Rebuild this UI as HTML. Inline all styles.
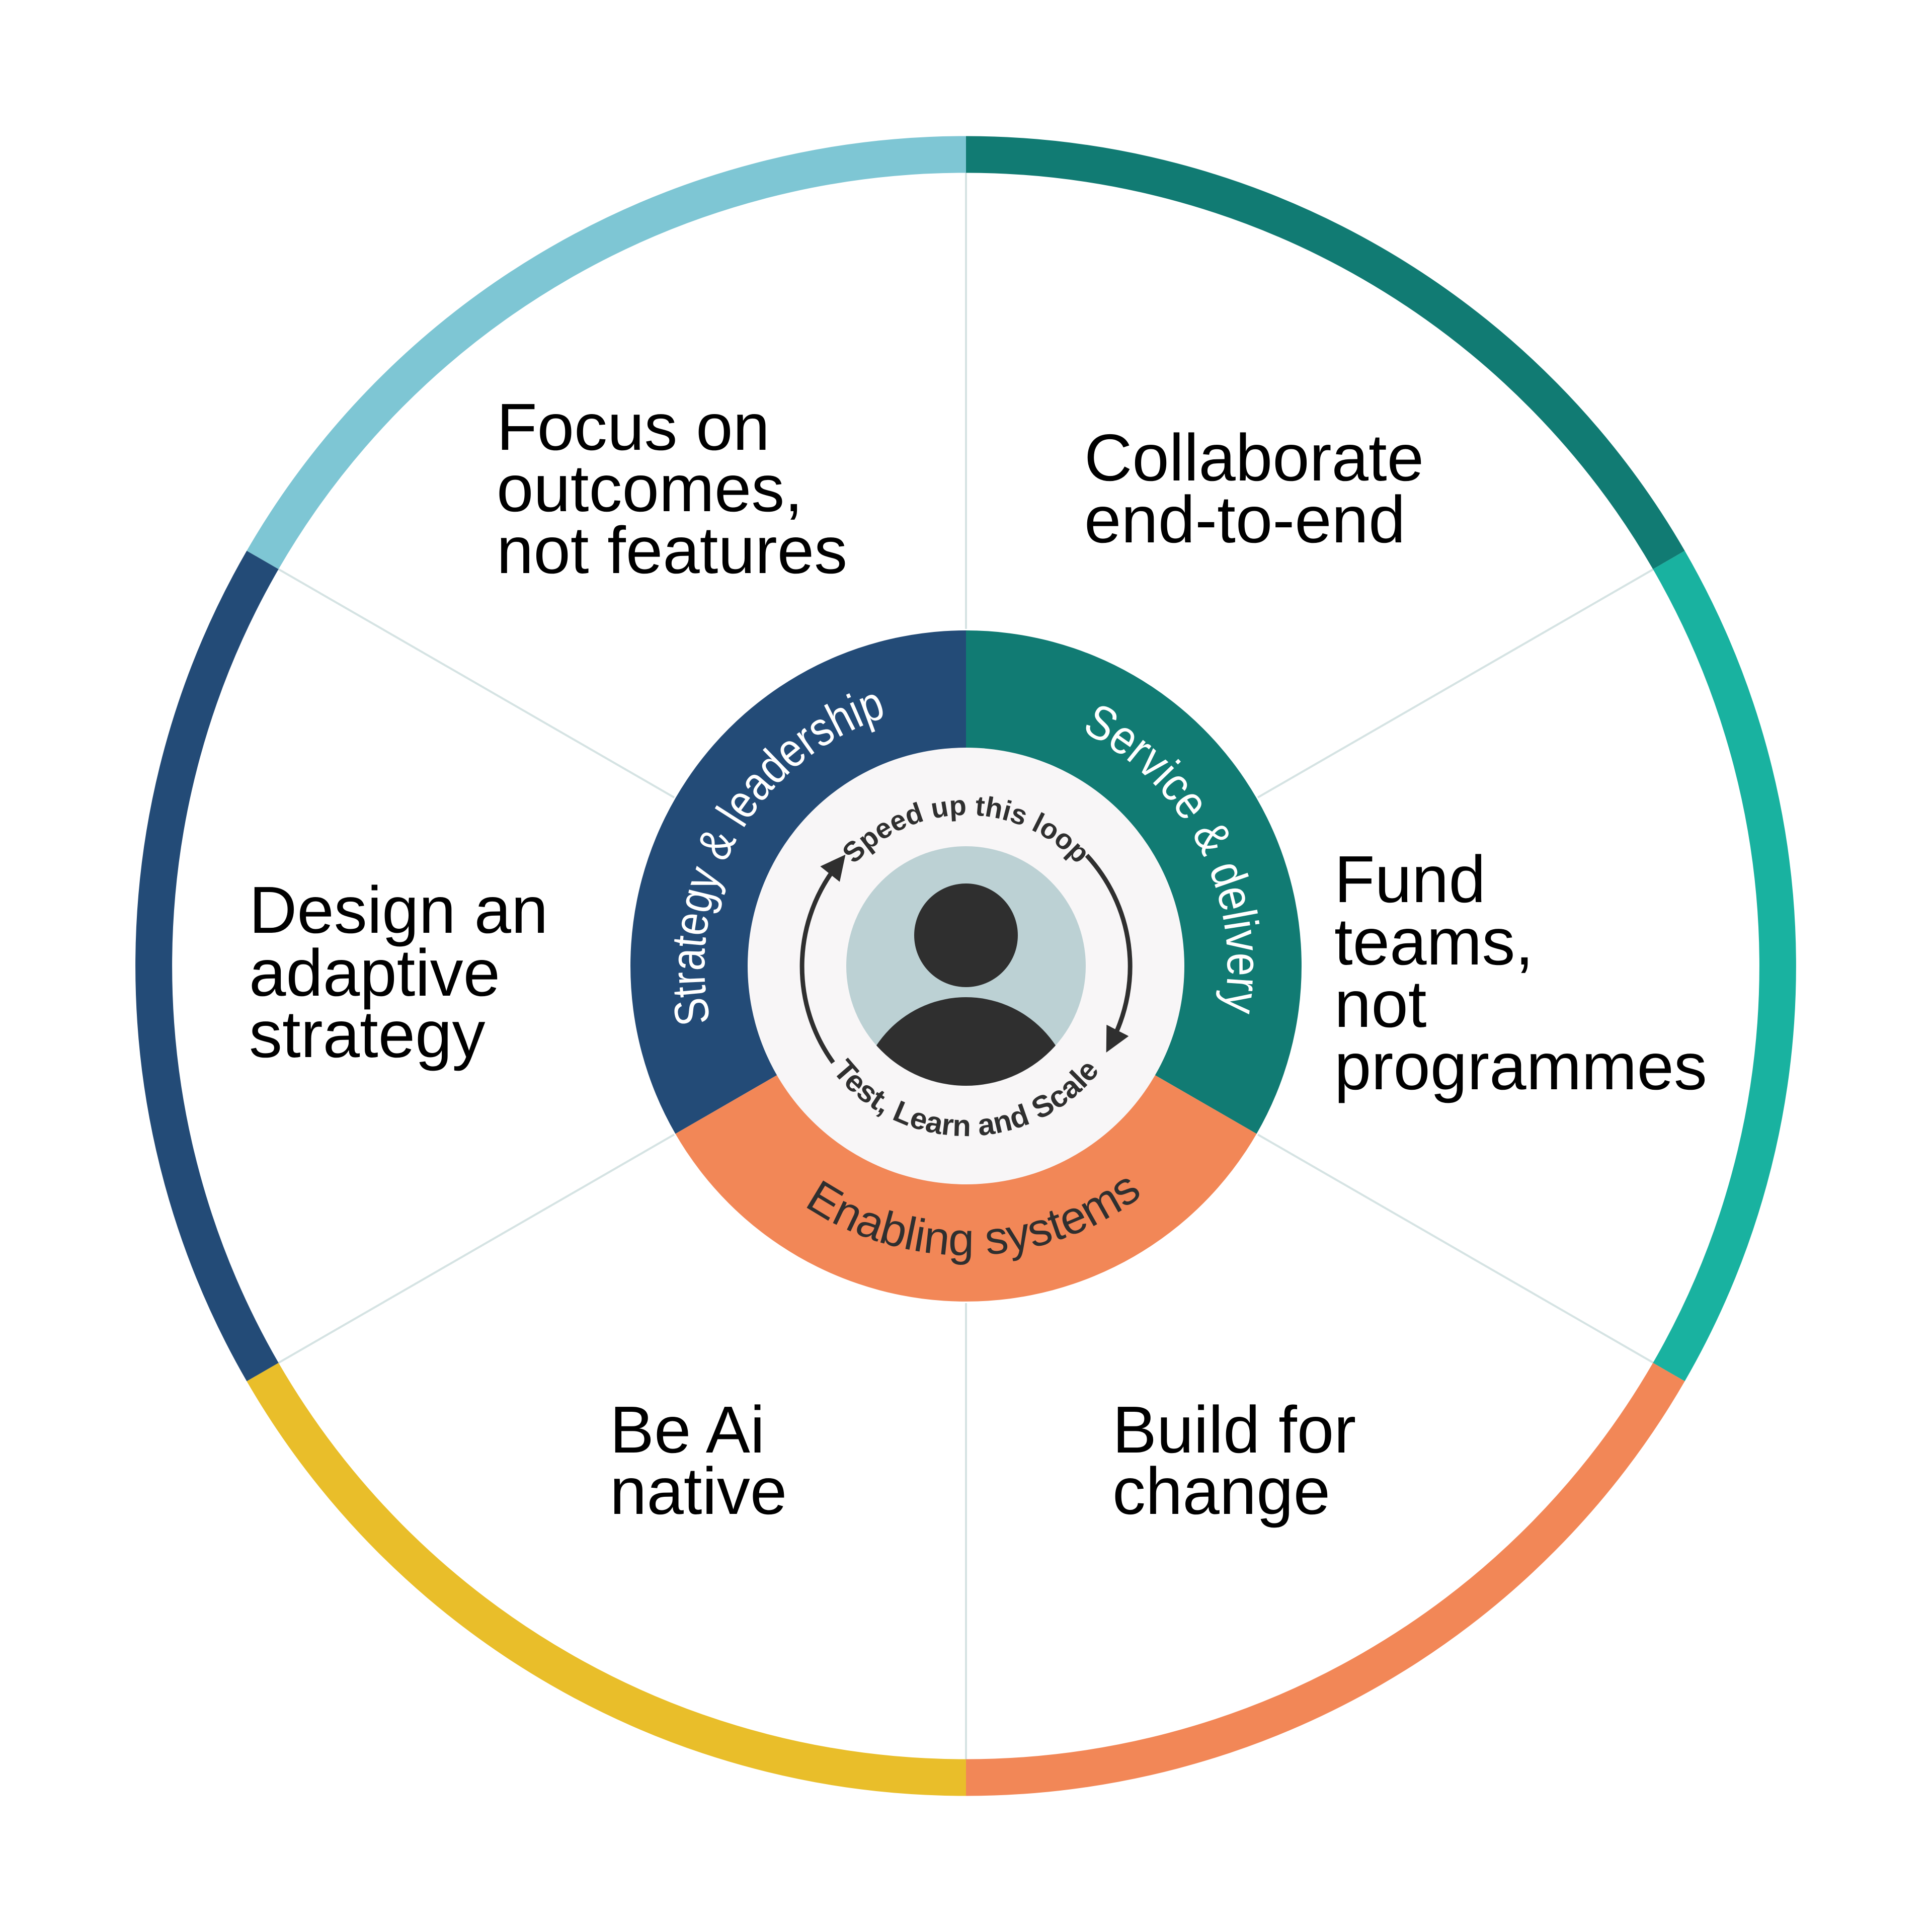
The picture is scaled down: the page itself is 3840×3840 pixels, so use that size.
<!DOCTYPE html>
<html><head><meta charset="utf-8"><style>
html,body{margin:0;padding:0;background:#fff;}
svg{display:block;}
</style></head><body>
<svg width="3840" height="3840" viewBox="0 0 3840 3840" xmlns="http://www.w3.org/2000/svg">
<defs>
<clipPath id="av"><circle cx="1920" cy="1920" r="238"/></clipPath>
<marker id="ah" viewBox="0 0 10 10" refX="5" refY="5" markerWidth="5.5" markerHeight="5.5" orient="auto" markerUnits="strokeWidth">
<path d="M0,0 L10,5 L0,10 z" fill="#2f2f2f"/></marker>
<path id="pSpeed" d="M1620,1920 A300,300 0 0 1 2220,1920"/>
<path id="pTest" d="M1582,1920 A338,338 0 0 0 2258,1920"/>
<path id="pStrat" d="M1469.7,2180 A520,520 0 0 1 2180,1469.7"/>
<path id="pServ" d="M1920,1400 A520,520 0 0 1 1920,2440"/>
<path id="pEn" d="M1345,1920 A575,575 0 0 0 2495,1920"/>
</defs>
<rect width="3840" height="3840" fill="#fff"/>
<g stroke="#d5e3e3" stroke-width="4">
<line x1="1920" y1="1250" x2="1920" y2="290"/>
<line x1="1920" y1="2590" x2="1920" y2="3550"/>
<line x1="2500" y1="1585" x2="3332" y2="1105"/>
<line x1="2500" y1="2255" x2="3332" y2="2735"/>
<line x1="1340" y1="1585" x2="508" y2="1105"/>
<line x1="1340" y1="2255" x2="508" y2="2735"/>
</g>
<g fill="none" stroke-width="73">
<path d="M522.0,1113.0 A1613,1613 0 0 1 1920,307" stroke="#7ec6d4"/>
<path d="M1920,307 A1613,1613 0 0 1 3317.0,1113.0" stroke="#117b73"/>
<path d="M3317.0,1113.0 A1613,1613 0 0 1 3317.0,2727.0" stroke="#19b2a0"/>
<path d="M3317.0,2727.0 A1613,1613 0 0 1 1920,3533" stroke="#f28757"/>
<path d="M1920,3533 A1613,1613 0 0 1 522.0,2727.0" stroke="#e9be2a"/>
<path d="M522.0,2727.0 A1613,1613 0 0 1 522.0,1113.0" stroke="#234b77"/>
</g>
<path d="M1920,1920 L1342.4,2253.5 A667,667 0 0 1 1920,1253 Z" fill="#234b77"/>
<path d="M1920,1920 L1920,1253 A667,667 0 0 1 2497.6,2253.5 Z" fill="#117b73"/>
<path d="M1920,1920 L2497.6,2253.5 A667,667 0 0 1 1342.4,2253.5 Z" fill="#f28757"/>
<circle cx="1920" cy="1920" r="434" fill="#f8f6f7"/>
<circle cx="1920" cy="1920" r="238" fill="#bcd1d4"/>
<g clip-path="url(#av)" fill="#2f2f2f">
<circle cx="1920" cy="1859" r="103"/>
<ellipse cx="1920" cy="2200" rx="215" ry="218"/>
</g>
<g fill="none" stroke="#2f2f2f" stroke-width="9">
<path d="M1656,2112 A326,326 0 0 1 1665,1718" marker-end="url(#ah)"/>
<path d="M2160,1700 A326,326 0 0 1 2210,2070" marker-end="url(#ah)"/>
</g>
<g font-family="Liberation Sans, sans-serif" font-weight="bold" fill="#2f2f2f" font-size="56">
<text><textPath href="#pSpeed" startOffset="50%" text-anchor="middle">Speed up this loop</textPath></text>
<text font-size="60"><textPath href="#pTest" startOffset="50%" text-anchor="middle">Test, Learn and Scale</textPath></text>
</g>
<g font-family="Liberation Sans, sans-serif" font-size="96">
<text fill="#fff"><textPath href="#pStrat" startOffset="40%" text-anchor="middle" textLength="770" lengthAdjust="spacingAndGlyphs">Strategy &amp; leadership</textPath></text>
<text fill="#fff"><textPath href="#pServ" startOffset="35%" text-anchor="middle" textLength="670" lengthAdjust="spacingAndGlyphs">Service &amp; delivery</textPath></text>
<text fill="#2f2f2f" font-size="92"><textPath href="#pEn" startOffset="51%" text-anchor="middle">Enabling systems</textPath></text>
</g>
<g font-family="Liberation Sans, sans-serif" font-size="132" fill="#000">
<text x="987" y="894">Focus on</text>
<text x="987" y="1016">outcomes,</text>
<text x="987" y="1139">not features</text>
<text x="2155" y="955">Collaborate</text>
<text x="2155" y="1078">end-to-end</text>
<text x="495" y="1854">Design an</text>
<text x="495" y="1979">adaptive</text>
<text x="495" y="2101">strategy</text>
<text x="2652" y="1793">Fund</text>
<text x="2652" y="1917">teams,</text>
<text x="2652" y="2041">not</text>
<text x="2652" y="2165">programmes</text>
<text x="1212" y="2887">Be Ai</text>
<text x="1212" y="3009">native</text>
<text x="2211" y="2887">Build for</text>
<text x="2211" y="3009">change</text>
</g>
</svg>
</body></html>
